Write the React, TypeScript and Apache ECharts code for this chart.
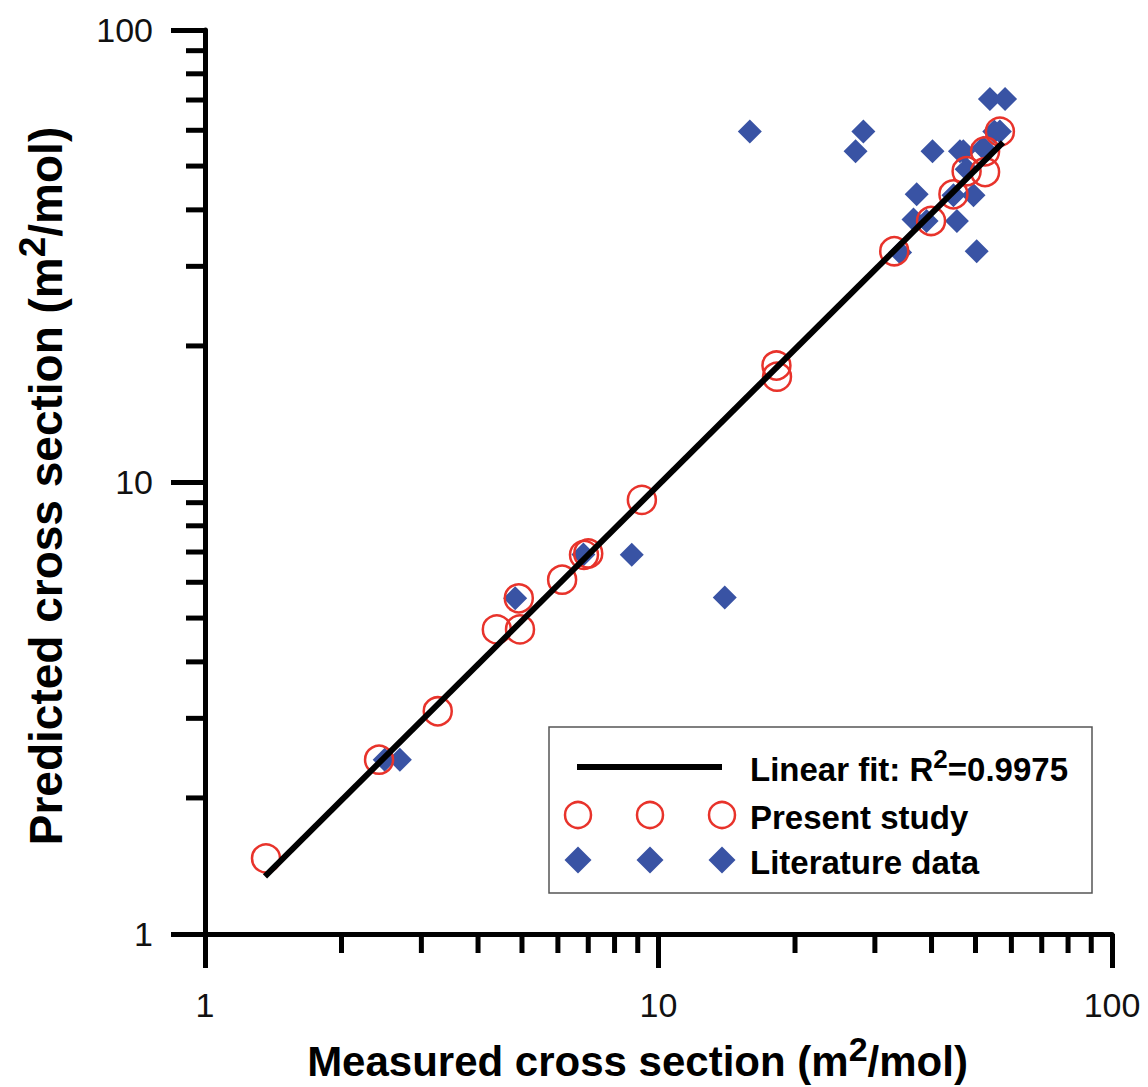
import { useEffect, useRef } from 'react';
import * as echarts from 'echarts';

// Present study (measured, predicted), m^2/mol
const presentStudy: number[][] = [
  [1.363, 1.47],
  [2.42, 2.43],
  [3.26, 3.11],
  [4.40, 4.72],
  [4.95, 4.72],
  [4.92, 5.53],
  [6.13, 6.08],
  [6.85, 6.90],
  [7.0, 6.95],
  [9.19, 9.13],
  [18.2, 18.1],
  [18.25, 17.1],
  [33.1, 32.4],
  [39.9, 37.8],
  [44.7, 43.3],
  [47.8, 48.7],
  [52.5, 48.5],
  [52.5, 53.9],
  [56.6, 59.6],
];

// Literature data (measured, predicted)
const literatureData: number[][] = [
  [2.49, 2.43],
  [2.69, 2.43],
  [4.83, 5.53],
  [6.83, 6.91],
  [8.73, 6.90],
  [14.0, 5.55],
  [15.9, 59.6],
  [28.3, 59.6],
  [27.2, 53.9],
  [34.1, 32.2],
  [36.5, 38.1],
  [37.1, 43.3],
  [39.0, 37.8],
  [40.2, 53.9],
  [44.7, 43.1],
  [45.5, 37.8],
  [46.2, 53.9],
  [47.0, 53.9],
  [47.8, 49.2],
  [49.5, 43.1],
  [50.3, 32.4],
  [52.0, 54.9],
  [53.8, 70.4],
  [58.1, 70.4],
  [55.0, 59.6],
  [56.6, 59.6],
];

// Linear fit line endpoints
const fitLine: number[][] = [
  [1.356, 1.342],
  [57.5, 56.4],
];

const axisMin = 1;
const axisMax = 100;
const minorTickValues = [2, 3, 4, 5, 6, 7, 8, 9, 20, 30, 40, 50, 60, 70, 80, 90];

const legendLabels = ['Linear fit: R', '2', '=0.9975', 'Present study', 'Literature data'];

const FONT = '"Liberation Sans", Arial, Helvetica, sans-serif';
const RED = '#e8332b';
const BLUE = '#3953a4';

export default function App() {
  const ref = useRef<HTMLDivElement>(null);

  useEffect(() => {
    if (!ref.current) return;
    const chart = echarts.init(ref.current, null, { renderer: 'svg' });

    const makeRich = (fs: number, sfs: number, lh: number, raise: number) => ({
      a: { fontFamily: FONT, fontWeight: 'bold', fontSize: fs, lineHeight: lh, color: '#000', verticalAlign: 'bottom' },
      s: { fontFamily: FONT, fontWeight: 'bold', fontSize: sfs, lineHeight: sfs, color: '#000', padding: [0, 0, raise, 0], verticalAlign: 'bottom' },
    });

    const axisCommon = {
      type: 'log',
      logBase: 10,
      min: axisMin,
      max: axisMax,
      nameLocation: 'middle',
      axisLine: { show: true, lineStyle: { color: '#000', width: 5 } },
      axisTick: { show: true, length: 34, lineStyle: { color: '#000', width: 5 } },
      splitLine: { show: false },
      minorTick: { show: false },
      axisLabel: {
        fontFamily: FONT,
        fontSize: 34,
        color: '#111',
        formatter: (v: number) => String(Math.round(v)),
      },
    };

    const tickSeries = (dir: 'x' | 'y') => ({
      type: 'custom',
      silent: true,
      clip: false,
      z: 4,
      data: minorTickValues.map((v) => (dir === 'x' ? [v, axisMin] : [axisMin, v])),
      renderItem: (_params: any, api: any) => {
        const p = api.coord([api.value(0), api.value(1)]);
        return dir === 'x'
          ? { type: 'line', shape: { x1: p[0], y1: p[1], x2: p[0], y2: p[1] + 19 }, style: { stroke: '#000', lineWidth: 5 } }
          : { type: 'line', shape: { x1: p[0] - 19, y1: p[1], x2: p[0], y2: p[1] }, style: { stroke: '#000', lineWidth: 5 } };
      },
    });

    const diamond = (cx: number, cy: number, h: number) => ({
      type: 'polygon',
      shape: { points: [[cx, cy - h], [cx + h, cy], [cx, cy + h], [cx - h, cy]] },
      style: { fill: BLUE },
    });
    const ring = (cx: number, cy: number) => ({
      type: 'circle',
      shape: { cx, cy, r: 13 },
      style: { fill: 'none', stroke: RED, lineWidth: 2.5 },
    });
    const legendText = (y: number, text: string) => ({
      type: 'text',
      x: 750,
      y,
      style: {
        text,
        fontFamily: FONT,
        fontWeight: 'bold',
        fontSize: 33,
        fill: '#000',
        verticalAlign: 'middle',
        rich: {
          a: { fontFamily: FONT, fontWeight: 'bold', fontSize: 33, lineHeight: 38, fill: '#000', verticalAlign: 'bottom' },
          s: { fontFamily: FONT, fontWeight: 'bold', fontSize: 26, lineHeight: 26, fill: '#000', padding: [0, 0, 14, 0], verticalAlign: 'bottom' },
        },
      },
    });

    const option: any = {
      animation: false,
      backgroundColor: '#fff',
      grid: { left: 205, right: 36, top: 30, bottom: 149, containLabel: false },
      xAxis: {
        ...axisCommon,
        name: '{a|Measured cross section (m}{s|2}{a|/mol)}',
        nameGap: 98,
        nameTextStyle: { padding: [0, 42, 0, 0], rich: makeRich(42, 34, 50, 16) },
        axisLabel: { ...axisCommon.axisLabel, margin: 54 },
      },
      yAxis: {
        ...axisCommon,
        name: '{a|Predicted cross section (m}{s|2}{a|/mol)}',
        nameGap: 136,
        nameTextStyle: { padding: [0, 8, 0, 0], rich: makeRich(46, 37, 54, 18) },
        axisLabel: { ...axisCommon.axisLabel, margin: 52 },
      },
      series: [
        {
          name: 'Literature data',
          type: 'scatter',
          data: literatureData,
          symbol: 'diamond',
          symbolSize: 24,
          itemStyle: { color: BLUE, opacity: 1 },
          z: 2,
        },
        {
          name: 'Present study',
          type: 'scatter',
          data: presentStudy,
          symbol: 'circle',
          symbolSize: 28,
          itemStyle: { color: 'rgba(0,0,0,0)', borderColor: RED, borderWidth: 2.5, opacity: 1 },
          z: 3,
        },
        {
          name: 'Linear fit',
          type: 'line',
          data: fitLine,
          symbol: 'none',
          lineStyle: { color: '#000', width: 6 },
          z: 4,
        },
        tickSeries('x'),
        tickSeries('y'),
      ],
      graphic: [
        {
          type: 'rect',
          shape: { x: 549, y: 727, width: 543, height: 166 },
          style: { fill: 'none', stroke: '#555', lineWidth: 1.5 },
        },
        {
          type: 'line',
          shape: { x1: 577, y1: 767, x2: 722, y2: 767 },
          style: { stroke: '#000', lineWidth: 6 },
        },
        ring(578, 815),
        ring(650, 815),
        ring(722, 815),
        diamond(578, 860, 13.5),
        diamond(650, 860, 13.5),
        diamond(722, 860, 13.5),
        legendText(767, `{a|${legendLabels[0]}}{s|${legendLabels[1]}}{a|${legendLabels[2]}}`),
        legendText(815, `{a|${legendLabels[3]}}`),
        legendText(860, `{a|${legendLabels[4]}}`),
      ],
    };

    chart.setOption(option);
    return () => chart.dispose();
  }, []);

  return <div ref={ref} style={{ position: 'absolute', left: 0, top: 0, width: 1148, height: 1087 }} />;
}
